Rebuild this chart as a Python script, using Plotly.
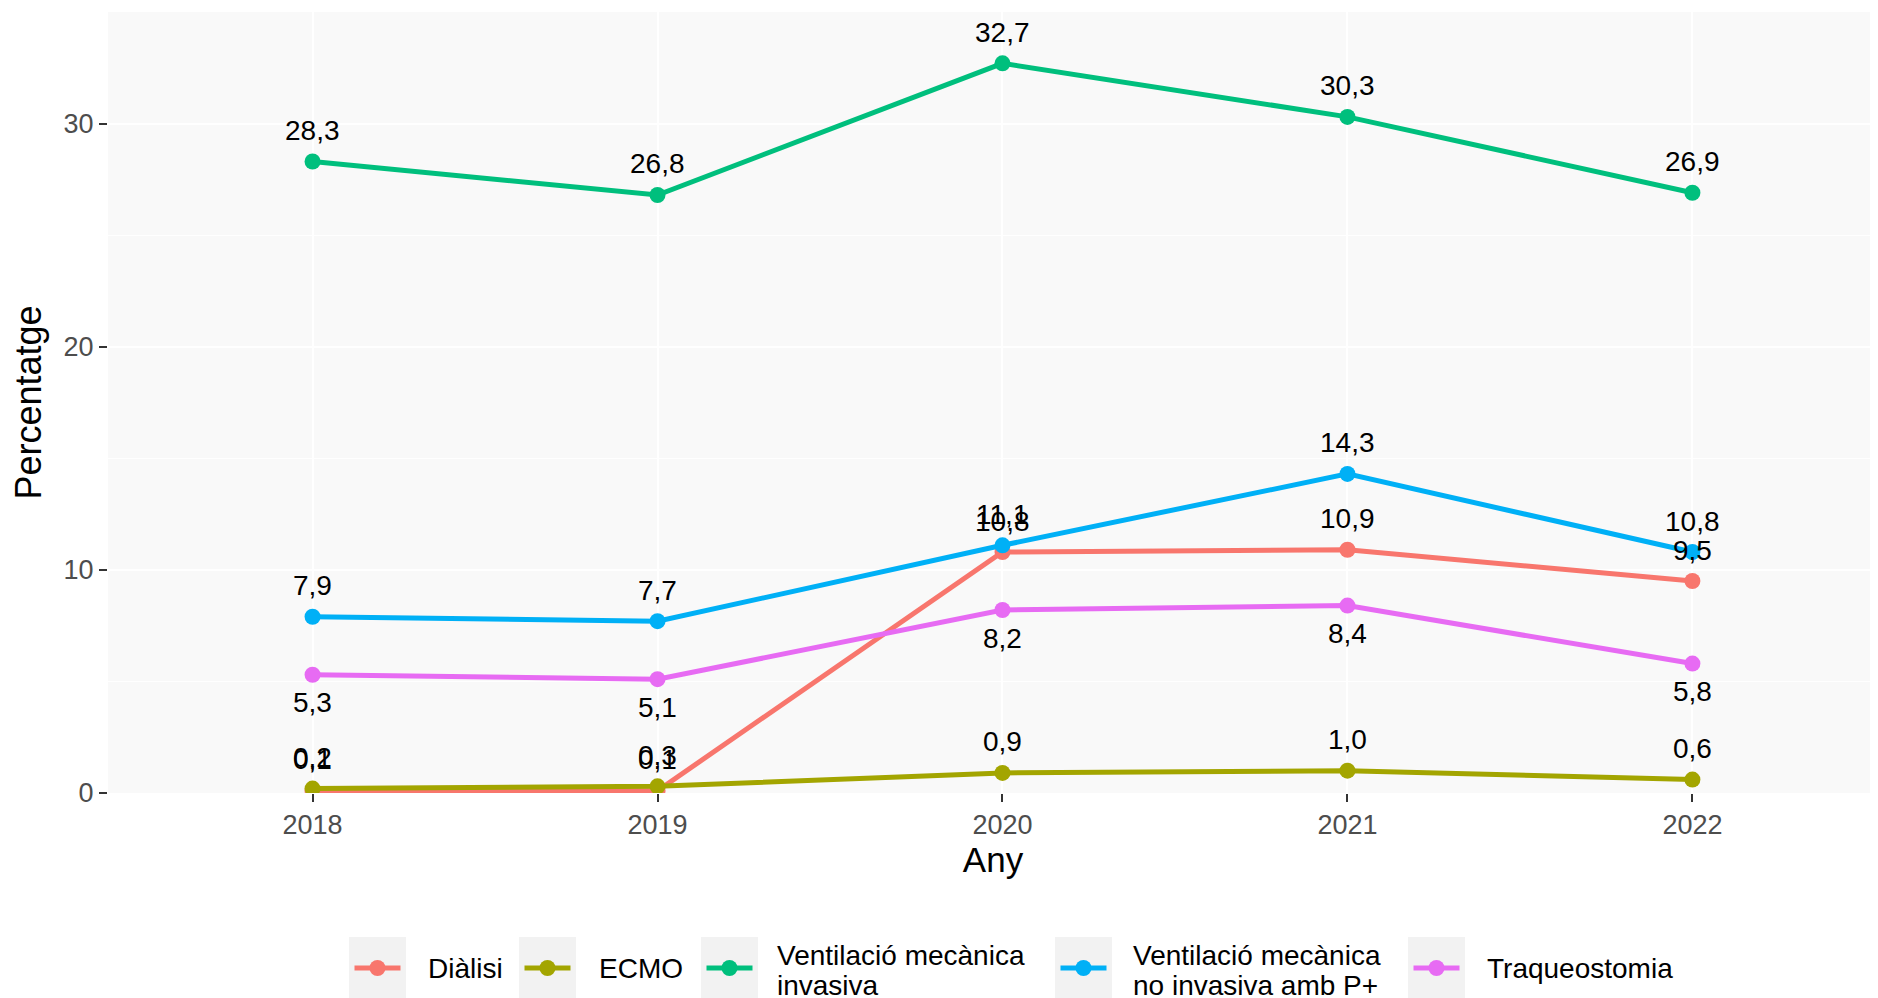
import plotly.graph_objects as go

# ---- data ----
years = [2018, 2019, 2020, 2021, 2022]
series_names = ["Diàlisi", "ECMO", "Ventilació mecànica invasiva",
                "Ventilació mecànica no invasiva amb P+", "Traqueostomia"]
dialisi = [0.1, 0.1, 10.8, 10.9, 9.5]
ecmo = [0.2, 0.3, 0.9, 1.0, 0.6]
vm_invasiva = [28.3, 26.8, 32.7, 30.3, 26.9]
vm_no_invasiva = [7.9, 7.7, 11.1, 14.3, 10.8]
traqueostomia = [5.3, 5.1, 8.2, 8.4, 5.8]
legend_lines = [["Diàlisi"], ["ECMO"], ["Ventilació mecànica", "invasiva"],
                ["Ventilació mecànica", "no invasiva amb P+"], ["Traqueostomia"]]
y_ticks = [0, 10, 20, 30]

values = [dialisi, ecmo, vm_invasiva, vm_no_invasiva, traqueostomia]
colors = ["#F8766D", "#A3A500", "#00BF7D", "#00B0F6", "#E76BF3"]
label_below = [False, False, False, False, True]

OFF = 8  # default page body margin
W, H = 1878 - OFF, 998 - OFF
L, R, T, B = 108 - OFF, 0, 12 - OFF, 998 - 793
PW, PH = W - L - R, H - T - B


def px_x(x):
    return (x - OFF - L) / PW


def px_y(y):
    return (H - B - (y - OFF)) / PH


fig = go.Figure()
for name, vals, col in zip(series_names, values, colors):
    fig.add_trace(go.Scatter(
        x=years, y=vals, name=name, mode="lines+markers",
        line=dict(color=col, width=5), marker=dict(color=col, size=16),
        showlegend=False))

FONT = "Liberation Sans, Arial, sans-serif"
annotations = []
for vals, below in zip(values, label_below):
    for x, v in zip(years, vals):
        annotations.append(dict(
            x=x, y=v, xref="x", yref="y", text=f"{v:.1f}".replace(".", ","),
            showarrow=False, yshift=-28 if below else 31,
            font=dict(family=FONT, size=28, color="black"),
            xanchor="center", yanchor="middle"))

# manual legend (ggplot-style grey key boxes)
shapes = []
box_x = [349, 519, 701, 1055, 1408]
text_x = [426, 597, 775, 1131, 1485]
key_w = 57
for bx, tx, col, lines in zip(box_x, text_x, colors, legend_lines):
    shapes.append(dict(type="rect", xref="paper", yref="paper",
                       x0=px_x(bx), x1=px_x(bx + key_w), y0=px_y(1000), y1=px_y(937),
                       fillcolor="#F2F2F2", line=dict(width=0), layer="below"))
    cx = bx + key_w / 2
    shapes.append(dict(type="line", xref="paper", yref="paper",
                       x0=px_x(cx - 23), x1=px_x(cx + 23), y0=px_y(968), y1=px_y(968),
                       line=dict(color=col, width=5)))
    shapes.append(dict(type="circle", xref="paper", yref="paper",
                       xsizemode="pixel", ysizemode="pixel",
                       xanchor=px_x(cx), yanchor=px_y(968),
                       x0=-8, x1=8, y0=-8, y1=8,
                       fillcolor=col, line=dict(width=0)))
    ys = [969] if len(lines) == 1 else [956, 985]
    for t, yy in zip(lines, ys):
        annotations.append(dict(x=px_x(tx), y=px_y(yy), xref="paper", yref="paper",
                                text=t, showarrow=False, xanchor="left", yanchor="middle",
                                font=dict(family=FONT, size=28, color="black")))

fig.update_layout(
    width=W, height=H,
    margin=dict(l=L, r=R, t=T, b=B, pad=0),
    paper_bgcolor="white", plot_bgcolor="#F9F9F9",
    font=dict(family=FONT, color="black"),
    annotations=annotations, shapes=shapes,
    showlegend=False,
)
fig.update_xaxes(
    range=[2017.407, 2022.538], tickvals=years, ticktext=[str(y) for y in years],
    showgrid=True, gridcolor="white", gridwidth=2, zeroline=False,
    ticks="outside", ticklen=8, tickwidth=2, tickcolor="#333333",
    tickfont=dict(family=FONT, size=27, color="#4D4D4D"),
    title=dict(text="Any", font=dict(family=FONT, size=35, color="black"), standoff=6),
    showline=False,
)
fig.update_yaxes(
    range=[0, 35], tickvals=y_ticks, ticktext=[str(v) for v in y_ticks],
    showgrid=True, gridcolor="white", gridwidth=2, zeroline=False,
    minor=dict(tickvals=[5, 15, 25], showgrid=True, gridcolor="white", gridwidth=1),
    ticks="outside", ticklen=8, tickwidth=2, tickcolor="#333333",
    tickfont=dict(family=FONT, size=27, color="#4D4D4D"),
    title=dict(text="Percentatge", font=dict(family=FONT, size=36, color="black"), standoff=10),
    showline=False,
)

fig.write_html("out.html")
